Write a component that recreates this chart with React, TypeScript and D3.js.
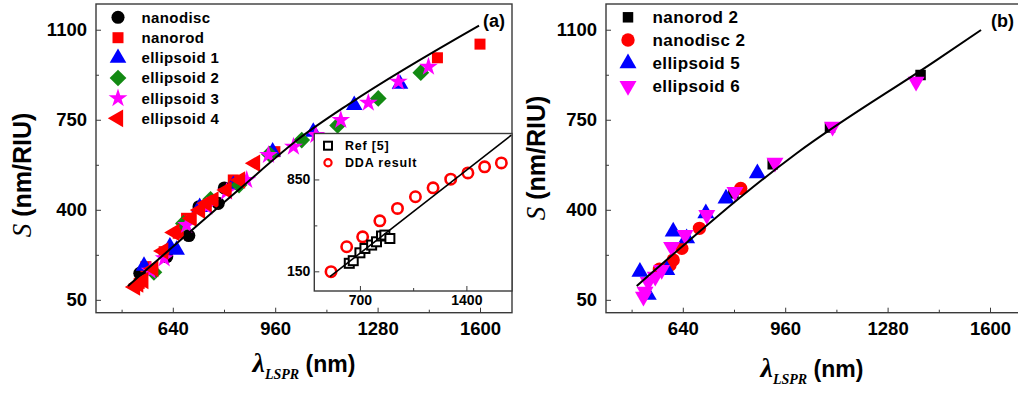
import React, { useEffect, useRef } from "react";
import * as d3 from "d3";

type Pt = [number, number];

// panel (a): lambda_LSPR (nm) vs S (nm/RIU)
const nanodisc: Pt[] = [[537, 153], [621, 218], [690, 300], [722, 412], [782, 425], [801, 485]];
const nanorod: Pt[] = [[535, 114], [556, 179], [613, 237], [657, 309], [683, 367], [829, 516], [959, 626], [1467, 991], [1600, 1044]];
const ellipsoid1: Pt[] = [[550, 182], [631, 257], [652, 244], [724, 410], [829, 496], [952, 626], [1079, 703], [1207, 807], [1350, 889]];
const ellipsoid2: Pt[] = [[581, 157], [673, 347], [758, 441], [847, 496], [942, 616], [1043, 671], [1155, 728], [1282, 833], [1415, 933]];
const ellipsoid3: Pt[] = [[569, 163], [613, 211], [683, 341], [746, 412], [808, 470], [871, 516], [939, 613], [1017, 645], [1087, 691], [1165, 749], [1251, 816], [1345, 898], [1439, 956]];
const ellipsoid4: Pt[] = [[522, 100], [532, 112], [548, 125], [579, 172], [610, 240], [645, 312], [699, 367], [725, 399], [746, 425], [767, 438], [808, 477], [850, 516], [897, 581]];
const fitA: Pt[] = [[500, 104], [845, 477], [1037, 679], [1194, 814], [1597, 1116]];

// inset of (a)
const ref5: Pt[] = [[630, 211], [656, 231], [700, 291], [733, 324], [777, 350], [809, 375], [842, 419], [864, 426], [897, 400]];
const dda: Pt[] = [[510, 147], [613, 337], [718, 413], [831, 535], [947, 629], [1065, 718], [1181, 786], [1297, 852], [1410, 900], [1520, 946], [1630, 976]];
const fitInset: Pt[] = [[503, 109], [1695, 1187]];

// panel (b)
const nanorod2: Pt[] = [[798, 464], [921, 577], [1100, 720], [1383, 924]];
const nanodisc2: Pt[] = [[567, 169], [600, 185], [610, 205], [637, 250], [692, 328], [821, 483]];
const ellipsoid5: Pt[] = [[506, 159], [532, 69], [590, 166], [610, 315], [652, 289], [712, 386], [775, 444], [873, 542]];
const ellipsoid6: Pt[] = [[517, 62], [522, 82], [532, 120], [554, 140], [574, 166], [605, 256], [647, 302], [715, 380], [803, 470], [928, 583], [1108, 723], [1369, 898]];
const fitB: Pt[] = [[496, 104], [996, 620], [1433, 982], [1572, 1099]];

const xMajor = [640, 960, 1280, 1600];
const xMinor = [480, 800, 1120, 1440];
const yMajor = [50, 400, 750, 1100];
const yMinor = [225, 575, 925];
const insetXMajor = [700, 1400];
const insetXMinor = [1050];
const insetYMajor = [150, 850];
const insetYMinor = [500];

const SANS = "'Liberation Sans', Arial, sans-serif";
const SERIF = "'Liberation Serif', 'Times New Roman', serif";
const FRAME = "#3a3a3a";

type Marker = { type: d3.SymbolType; size: number; rot: number; color: string };

const App = () => {
  const ref = useRef<SVGSVGElement>(null);

  useEffect(() => {
    const svg = d3.select(ref.current);
    svg.selectAll("*").remove();

    const drawAxes = (x, y, xPad, yPad, font, major, minor) => {
      const [x0, x1] = x.range();
      const [y0, y1] = y.range();
      const g = svg.append("g");
      const fmt = d3.format("d");
      const style = (a) =>
        a.call((s) => s.select(".domain").remove())
          .attr("font-family", SANS)
          .attr("font-size", font)
          .attr("font-weight", "bold")
          .attr("color", FRAME);
      g.append("g").attr("transform", `translate(0,${y0})`)
        .call(d3.axisBottom(x).tickValues(major[0]).tickSize(-5).tickPadding(xPad).tickFormat(fmt)).call(style);
      g.append("g").attr("transform", `translate(0,${y0})`)
        .call(d3.axisBottom(x).tickValues(minor[0]).tickSize(-3).tickFormat(() => "")).call(style);
      g.append("g").attr("transform", `translate(${x0},0)`)
        .call(d3.axisLeft(y).tickValues(major[1]).tickSize(-5).tickPadding(yPad).tickFormat(fmt)).call(style);
      g.append("g").attr("transform", `translate(${x0},0)`)
        .call(d3.axisLeft(y).tickValues(minor[1]).tickSize(-3).tickFormat(() => "")).call(style);
      g.selectAll("text").attr("fill", "#000");
      g.append("rect")
        .attr("x", x0).attr("y", y1).attr("width", x1 - x0).attr("height", y0 - y1)
        .attr("fill", "none").attr("stroke", FRAME).attr("stroke-width", 1.4);
    };

    const drawSeries = (x, y, data: Pt[], m: Marker) => {
      const sym = d3.symbol(m.type, m.size);
      svg.append("g").selectAll("path").data(data).join("path")
        .attr("d", sym)
        .attr("transform", (d) => `translate(${x(d[0])},${y(d[1])}) rotate(${m.rot})`)
        .attr("fill", m.color);
    };

    const drawFit = (x, y, data: Pt[]) => {
      const line = d3.line<Pt>().x((d) => x(d[0])).y((d) => y(d[1])).curve(d3.curveMonotoneX);
      svg.append("path").datum(data).attr("d", line)
        .attr("fill", "none").attr("stroke", "#000").attr("stroke-width", 2);
    };

    const drawLegend = (items: [string, Marker][], sx, tx, ys, font) => {
      items.forEach(([label, m], i) => {
        svg.append("path")
          .attr("d", d3.symbol(m.type, m.size)())
          .attr("transform", `translate(${sx},${ys[i]}) rotate(${m.rot})`)
          .attr("fill", m.color);
        svg.append("text")
          .attr("x", tx).attr("y", ys[i]).attr("dy", "0.36em")
          .attr("font-family", SANS).attr("font-size", font).attr("font-weight", "bold")
          .attr("letter-spacing", 0.4)
          .text(label);
      });
    };

    const yTitle = (cx, cy) => {
      const t = svg.append("text")
        .attr("transform", `translate(${cx},${cy}) rotate(-90)`)
        .attr("text-anchor", "middle")
        .attr("font-family", SANS).attr("font-size", 25).attr("font-weight", "bold");
      t.append("tspan").attr("font-family", SERIF).attr("font-style", "italic").attr("font-weight", "normal").attr("font-size", 27).text("S");
      t.append("tspan").text(" (nm/RIU)");
    };

    const xTitle = (cx, by) => {
      const t = svg.append("text")
        .attr("x", cx).attr("y", by)
        .attr("text-anchor", "middle")
        .attr("font-family", SANS).attr("font-size", 23).attr("font-weight", "bold");
      t.append("tspan").attr("font-family", SERIF).attr("font-style", "italic").attr("font-size", 28).text("λ");
      t.append("tspan").attr("font-family", SERIF).attr("font-style", "italic").attr("font-size", 14).attr("dy", 7).text("LSPR");
      t.append("tspan").attr("dy", -7).text(" (nm)");
    };

    // ---------- panel (a) ----------
    const xa = d3.scaleLinear().domain([400, 1700]).range([96, 512]);
    const ya = d3.scaleLinear().domain([0, 1200]).range([312.7, 4]);
    drawAxes(xa, ya, 9, 9, 18.5, [xMajor, yMajor], [xMinor, yMinor]);

    const mA: Record<string, Marker> = {
      nanodisc: { type: d3.symbolCircle, size: 135, rot: 0, color: "#000" },
      nanorod: { type: d3.symbolSquare, size: 121, rot: 0, color: "#ff0000" },
      e1: { type: d3.symbolTriangle, size: 120, rot: 0, color: "#0000ff" },
      e2: { type: d3.symbolSquare, size: 140, rot: 45, color: "#138a13" },
      e3: { type: d3.symbolStar, size: 110, rot: 0, color: "#ff00ff" },
      e4: { type: d3.symbolTriangle, size: 135, rot: -90, color: "#ff0000" },
    };
    drawSeries(xa, ya, nanodisc, mA.nanodisc);
    drawSeries(xa, ya, nanorod, mA.nanorod);
    drawSeries(xa, ya, ellipsoid1, mA.e1);
    drawSeries(xa, ya, ellipsoid2, mA.e2);
    drawSeries(xa, ya, ellipsoid3, mA.e3);
    drawSeries(xa, ya, ellipsoid4, mA.e4);
    drawFit(xa, ya, fitA);

    drawLegend(
      [["nanodisc", mA.nanodisc], ["nanorod", mA.nanorod], ["ellipsoid 1", mA.e1],
       ["ellipsoid 2", mA.e2], ["ellipsoid 3", mA.e3], ["ellipsoid 4", mA.e4]],
      118, 141.5, [17.3, 37.7, 58, 78, 98.3, 118.3], 15
    );
    svg.append("text").attr("x", 505).attr("y", 27).attr("text-anchor", "end")
      .attr("font-family", SANS).attr("font-size", 18).attr("font-weight", "bold").text("(a)");

    // inset
    const xi = d3.scaleLinear().domain([400, 1700]).range([314.3, 512]);
    const yi = d3.scaleLinear().domain([0, 1200]).range([291, 133.5]);
    svg.append("rect").attr("x", 314.3).attr("y", 133.5).attr("width", 512 - 314.3).attr("height", 291 - 133.5)
      .attr("fill", "#fff");
    drawAxes(xi, yi, 4, 4, 14, [insetXMajor, insetYMajor], [insetXMinor, insetYMinor]);
    const lineI = d3.line<Pt>().x((d) => xi(d[0])).y((d) => yi(d[1]));
    svg.append("g").selectAll("circle").data(dda).join("circle")
      .attr("cx", (d) => xi(d[0])).attr("cy", (d) => yi(d[1])).attr("r", 5.2)
      .attr("fill", "none").attr("stroke", "#ff0000").attr("stroke-width", 2.6);
    svg.append("g").selectAll("rect").data(ref5).join("rect")
      .attr("x", (d) => xi(d[0]) - 4.5).attr("y", (d) => yi(d[1]) - 4.5).attr("width", 9).attr("height", 9)
      .attr("fill", "#fff").attr("stroke", "#000").attr("stroke-width", 2);
    svg.append("path").datum(fitInset).attr("d", lineI).attr("fill", "none").attr("stroke", "#000").attr("stroke-width", 1.6);
    svg.append("rect").attr("x", 324).attr("y", 141.7).attr("width", 8).attr("height", 8)
      .attr("fill", "#fff").attr("stroke", "#000").attr("stroke-width", 2);
    svg.append("circle").attr("cx", 328).attr("cy", 162.7).attr("r", 3.6)
      .attr("fill", "none").attr("stroke", "#ff0000").attr("stroke-width", 2.2);
    [["Ref [5]", 145.7], ["DDA result", 162.7]].forEach(([t, yy]) => {
      svg.append("text").attr("x", 345).attr("y", yy as number).attr("dy", "0.36em")
        .attr("font-family", SANS).attr("font-size", 12.5).attr("font-weight", "bold")
        .attr("letter-spacing", 0.8).text(t as string);
    });

    yTitle(31, 175);
    xTitle(304, 372);

    // ---------- panel (b) ----------
    const xb = d3.scaleLinear().domain([400, 1700]).range([606, 1022]);
    const yb = d3.scaleLinear().domain([0, 1200]).range([312.7, 4]);
    drawAxes(xb, yb, 9, 9, 18.5, [xMajor, yMajor], [xMinor, yMinor]);
    const mB: Record<string, Marker> = {
      nanorod2: { type: d3.symbolSquare, size: 110, rot: 0, color: "#000" },
      nanodisc2: { type: d3.symbolCircle, size: 140, rot: 0, color: "#ff0000" },
      e5: { type: d3.symbolTriangle, size: 125, rot: 0, color: "#0000ff" },
      e6: { type: d3.symbolTriangle, size: 125, rot: 180, color: "#ff00ff" },
    };
    drawSeries(xb, yb, nanorod2, mB.nanorod2);
    drawSeries(xb, yb, nanodisc2, mB.nanodisc2);
    drawSeries(xb, yb, ellipsoid5, mB.e5);
    drawSeries(xb, yb, ellipsoid6, mB.e6);
    drawFit(xb, yb, fitB);
    drawLegend(
      [["nanorod 2", mB.nanorod2], ["nanodisc 2", mB.nanodisc2], ["ellipsoid 5", mB.e5], ["ellipsoid 6", mB.e6]],
      628, 652.5, [17.3, 40, 63.3, 86], 17
    );
    svg.append("text").attr("x", 1014).attr("y", 27).attr("text-anchor", "end")
      .attr("font-family", SANS).attr("font-size", 18).attr("font-weight", "bold").text("(b)");
    yTitle(545, 158);
    xTitle(812, 377);
  }, []);

  return (
    <svg
      ref={ref}
      width={1018}
      height={393}
      style={{ position: "absolute", left: 0, top: 0, background: "#fff" }}
    />
  );
};

export default App;
